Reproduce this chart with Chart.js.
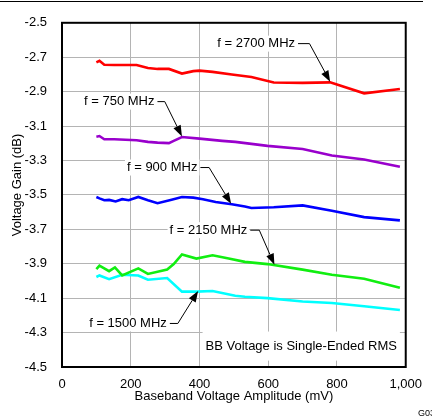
<!DOCTYPE html>
<html>
<head>
<meta charset="utf-8">
<script src="https://cdn.jsdelivr.net/npm/chart.js@4"></script>
<style>
  body { margin: 0; background: #fff; }
  canvas { display: block; }
</style>
</head>
<body>
<canvas id="myChart" width="432" height="420"></canvas>
<script>
// axis ticks
const xTicks = [0, 100, 200, 300, 400, 500, 600, 700, 800, 900, 1000];
const yTicks = [-4.5, -4.3, -4.1, -3.9, -3.7, -3.5, -3.3, -3.1, -2.9, -2.7, -2.5];

// f = 2700 MHz
const x2700 = [100, 109, 123, 152, 217, 250, 278, 311, 349, 382, 400, 438, 494, 551, 616, 700, 780, 879, 983];
const y2700 = [-2.730, -2.721, -2.744, -2.745, -2.745, -2.763, -2.768, -2.768, -2.795, -2.781, -2.778, -2.785, -2.800, -2.815, -2.847, -2.849, -2.846, -2.910, -2.885];

// f = 750 MHz
const x750 = [100, 109, 123, 152, 217, 250, 278, 311, 325, 349, 400, 466, 504, 598, 700, 785, 879, 983];
const y750 = [-3.162, -3.158, -3.177, -3.177, -3.182, -3.192, -3.196, -3.199, -3.186, -3.164, -3.173, -3.186, -3.192, -3.215, -3.233, -3.271, -3.294, -3.337];

// f = 900 MHz
const x900 = [100, 109, 123, 137, 156, 175, 194, 222, 250, 278, 316, 349, 382, 410, 447, 494, 532, 551, 616, 700, 785, 879, 983];
const y900 = [-3.512, -3.520, -3.531, -3.529, -3.538, -3.525, -3.531, -3.512, -3.531, -3.548, -3.529, -3.512, -3.516, -3.525, -3.541, -3.554, -3.567, -3.576, -3.572, -3.561, -3.592, -3.629, -3.648];

// f = 2150 MHz
const x2150 = [100, 109, 137, 154, 175, 222, 250, 306, 325, 349, 391, 438, 485, 532, 598, 700, 785, 879, 983];
const y2150 = [-3.931, -3.911, -3.943, -3.921, -3.968, -3.927, -3.959, -3.934, -3.902, -3.846, -3.870, -3.851, -3.870, -3.889, -3.902, -3.934, -3.964, -3.987, -4.040];

// f = 1500 MHz
const x1500 = [100, 109, 137, 175, 222, 250, 306, 349, 391, 438, 504, 532, 598, 700, 785, 879, 983];
const y1500 = [-3.977, -3.968, -3.990, -3.964, -3.968, -3.993, -3.983, -4.062, -4.062, -4.058, -4.086, -4.092, -4.100, -4.119, -4.128, -4.147, -4.169];

// callouts, in data units
const notes = [
    { text: 'f = 2700 MHz', x: 452, y: -2.621, bendX: 720, tipX: 780, tipY: -2.842 },
    { text: 'f = 750 MHz', x: 64, y: -2.958, bendX: 299, tipX: 349, tipY: -3.160 },
    { text: 'f = 900 MHz', x: 189, y: -3.341, bendX: 428, tipX: 492, tipY: -3.552 },
    { text: 'f = 2150 MHz', x: 313, y: -3.705, bendX: 574, tipX: 618, tipY: -3.906 },
    { text: 'f = 1500 MHz', x: 79, y: -4.247, bendX: 337, tipX: 396, tipY: -4.058 }
];

const font = "'Liberation Sans', Arial, sans-serif";
Chart.defaults.font.family = font;
Chart.defaults.font.size = 13;
Chart.defaults.color = '#000';

function pts(xs, ys) {
    return xs.map((x, i) => ({ x: x, y: ys[i] }));
}

function series(label, xs, ys, color) {
    return {
        label: label,
        data: pts(xs, ys),
        borderColor: color,
        backgroundColor: color,
        borderWidth: 2.6,
        pointRadius: 0,
        showLine: true,
        tension: 0
    };
}

const extras = {
    id: 'extras',
    afterDatasetsDraw(chart) {
        const { ctx, chartArea, scales } = chart;
        const sx = scales.x, sy = scales.y;
        ctx.save();
        ctx.font = '13px ' + font;
        ctx.textBaseline = 'middle';

        // note box
        const bx1 = sx.getPixelForValue(409), bx2 = sx.getPixelForValue(983);
        const by1 = sy.getPixelForValue(-4.294), by2 = sy.getPixelForValue(-4.463);
        ctx.fillStyle = '#fff';
        ctx.fillRect(bx1, by1, bx2 - bx1, by2 - by1);
        ctx.fillStyle = '#000';
        ctx.textAlign = 'center';
        ctx.fillText('BB Voltage is Single-Ended RMS', (bx1 + bx2) / 2, sy.getPixelForValue(-4.379));

        ctx.textAlign = 'left';
        notes.forEach(n => {
            const px = sx.getPixelForValue(n.x);
            const py = sy.getPixelForValue(n.y);
            const w = ctx.measureText(n.text).width;
            ctx.fillStyle = '#fff';
            ctx.fillRect(px - 2, py - 8, w + 4, 16);
            ctx.fillStyle = '#000';
            ctx.fillText(n.text, px, py);

            const bx = sx.getPixelForValue(n.bendX);
            const tx = sx.getPixelForValue(n.tipX);
            const ty = sy.getPixelForValue(n.tipY);
            const a = Math.atan2(ty - py, tx - bx);
            const len = 11, hw = 4;
            ctx.strokeStyle = '#000';
            ctx.lineWidth = 1;
            ctx.beginPath();
            ctx.moveTo(px + w + 3, py);
            ctx.lineTo(bx, py);
            ctx.lineTo(tx - Math.cos(a) * len, ty - Math.sin(a) * len);
            ctx.stroke();
            ctx.beginPath();
            ctx.moveTo(tx, ty);
            ctx.lineTo(tx - Math.cos(a) * len - Math.sin(a) * hw, ty - Math.sin(a) * len + Math.cos(a) * hw);
            ctx.lineTo(tx - Math.cos(a) * len + Math.sin(a) * hw, ty - Math.sin(a) * len - Math.cos(a) * hw);
            ctx.closePath();
            ctx.fill();
        });

        // frame
        ctx.strokeStyle = '#000';
        ctx.lineWidth = 2;
        ctx.strokeRect(chartArea.left, chartArea.top, chartArea.right - chartArea.left, chartArea.bottom - chartArea.top);

        // y axis title
        ctx.save();
        ctx.translate(17.5, 185);
        ctx.rotate(-Math.PI / 2);
        ctx.textAlign = 'center';
        ctx.fillText('Voltage Gain (dB)', 0, 0);
        ctx.restore();

        // top rule and figure id
        ctx.lineWidth = 1;
        ctx.beginPath();
        ctx.moveTo(0, 1.5);
        ctx.lineTo(423, 1.5);
        ctx.stroke();
        ctx.font = '9px ' + font;
        ctx.fillText('G030', 418, 414);
        ctx.restore();
    }
};

new Chart(document.getElementById('myChart'), {
    type: 'scatter',
    data: {
        datasets: [
            series('f = 2700 MHz', x2700, y2700, '#ff0000'),
            series('f = 750 MHz', x750, y750, '#9900cc'),
            series('f = 900 MHz', x900, y900, '#0000ff'),
            series('f = 2150 MHz', x2150, y2150, '#11ee11'),
            series('f = 1500 MHz', x1500, y1500, '#00ffff')
        ]
    },
    options: {
        responsive: false,
        animation: false,
        layout: { padding: { left: 0, top: 14, right: 16, bottom: 0 } },
        scales: {
            x: {
                type: 'linear',
                min: 0,
                max: 1000,
                afterBuildTicks: (s) => { s.ticks = xTicks.map(v => ({ value: v })); },
                afterFit: (s) => { s.height = 53; },
                ticks: { padding: 10, maxRotation: 0 },
                grid: { color: '#b4b4b4', drawTicks: false },
                border: { display: false },
                title: { display: true, text: 'Baseband Voltage Amplitude (mV)', padding: { top: 0, bottom: 16 } }
            },
            y: {
                type: 'linear',
                min: -4.5,
                max: -2.5,
                afterBuildTicks: (s) => { s.ticks = yTicks.map(v => ({ value: v })); },
                afterFit: (s) => { s.width = 62; },
                ticks: { padding: 15, callback: (v) => v.toFixed(1) },
                grid: { color: '#b4b4b4', drawTicks: false },
                border: { display: false },
                title: { display: false }
            }
        },
        plugins: {
            legend: { display: false },
            tooltip: { enabled: false }
        }
    },
    plugins: [extras]
});
</script>
</body>
</html>
